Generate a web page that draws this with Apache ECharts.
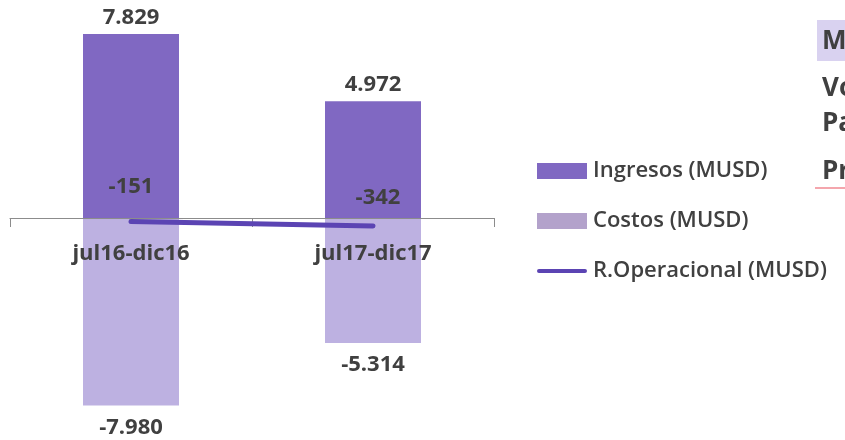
<!DOCTYPE html>
<html><head><meta charset="utf-8">
<script src="https://cdn.jsdelivr.net/npm/echarts@6/dist/echarts.min.js"></script>
<style>html,body{margin:0;padding:0;background:#fff}#c{width:845px;height:440px}</style>
</head><body><div id="c"></div>
<script>
const categories = ['jul16-dic16', 'jul17-dic17'];
const ingresos = [7829, 4972];
const costos = [-7980, -5314];
const resultado = [-151, -342];
const sideLabels = ['M', 'Vo', 'Pa', 'Pr'];

const FONT = '"Open Sans", "Noto Sans", sans-serif';
function fmt(v) {
  const s = Math.abs(v).toString().replace(/\B(?=(\d{3})+(?!\d))/g, '.');
  return (v < 0 ? '-' : '') + s;
}
const chart = echarts.init(document.getElementById('c'));
const labelStyle = { fontFamily: FONT, fontWeight: 'bold', fontSize: 22, color: '#404040', formatter: p => fmt(p.value) };
chart.setOption({
  animation: false,
  grid: { left: 10, right: 351, top: 6.5, height: 423, outerBoundsMode: 'none', containLabel: false },
  xAxis: {
    type: 'category', data: categories, z: 3,
    axisLine: { onZero: true, lineStyle: { color: '#8c8c8c', width: 1 } },
    axisTick: { show: true, lineStyle: { color: '#8c8c8c' }, length: 9 },
    axisLabel: { fontFamily: FONT, fontWeight: 'bold', fontSize: 22, color: '#404040', margin: -187 }
  },
  yAxis: { type: 'value', min: -9000, max: 9000, show: false, splitLine: { show: false } },
  legend: {
    orient: 'vertical', left: 537, top: 160, padding: 0, itemGap: 28, itemWidth: 50, itemHeight: 16,
    textStyle: { fontFamily: FONT, fontSize: 22, color: '#404040', fontWeight: 600, padding: [0, 0, 0, 1] },
    data: [
      { name: 'Ingresos (MUSD)', icon: 'rect' },
      { name: 'Costos (MUSD)', icon: 'rect', itemStyle: { color: '#b3a2cb' } },
      { name: 'R.Operacional (MUSD)', icon: 'path://M0,0L0.01,0L0,0.01Z M2,6L48,6A2,2,0,0,1,48,10L2,10A2,2,0,0,1,2,6Z M0,16L0.01,16L0,15.99Z',
        itemStyle: { color: '#5b44b3', borderWidth: 0 } }
    ]
  },
  series: [
    { name: 'Ingresos (MUSD)', type: 'bar', stack: 'a', data: ingresos, barWidth: 96,
      itemStyle: { color: '#8068c2' }, label: Object.assign({ show: true, position: 'top', distance: 5 }, labelStyle) },
    { name: 'Costos (MUSD)', type: 'bar', stack: 'a', data: costos, barWidth: 96,
      itemStyle: { color: '#bdb1e1' }, label: Object.assign({ show: true, position: 'bottom', distance: 11 }, labelStyle) },
    { name: 'R.Operacional (MUSD)', type: 'line', z: 5, symbol: 'circle', symbolSize: 0.1,
      data: resultado.map((v, i) => i === 1 ? { value: v, label: { distance: 17, offset: [5, 0] } } : { value: v }),
      lineStyle: { color: '#5b44b3', width: 5, cap: 'round' }, itemStyle: { color: '#5b44b3' },
      label: Object.assign({ show: true, position: 'top', distance: 24 }, labelStyle) }
  ],
  graphic: [
    { type: 'rect', shape: { x: 817, y: 20, width: 40, height: 41 }, style: { fill: '#d9d2f0' } },
    { type: 'line', shape: { x1: 815, y1: 188, x2: 845, y2: 188 }, style: { stroke: '#f4a6ad', lineWidth: 2 } }
  ].concat(sideLabels.map((t, i) => ({
    type: 'text', left: 822, top: [29, 76, 111, 159][i],
    style: { text: t, fontFamily: FONT, fontWeight: 'bold', fontSize: 26, fill: '#404040' }
  })))
});
</script></body></html>
